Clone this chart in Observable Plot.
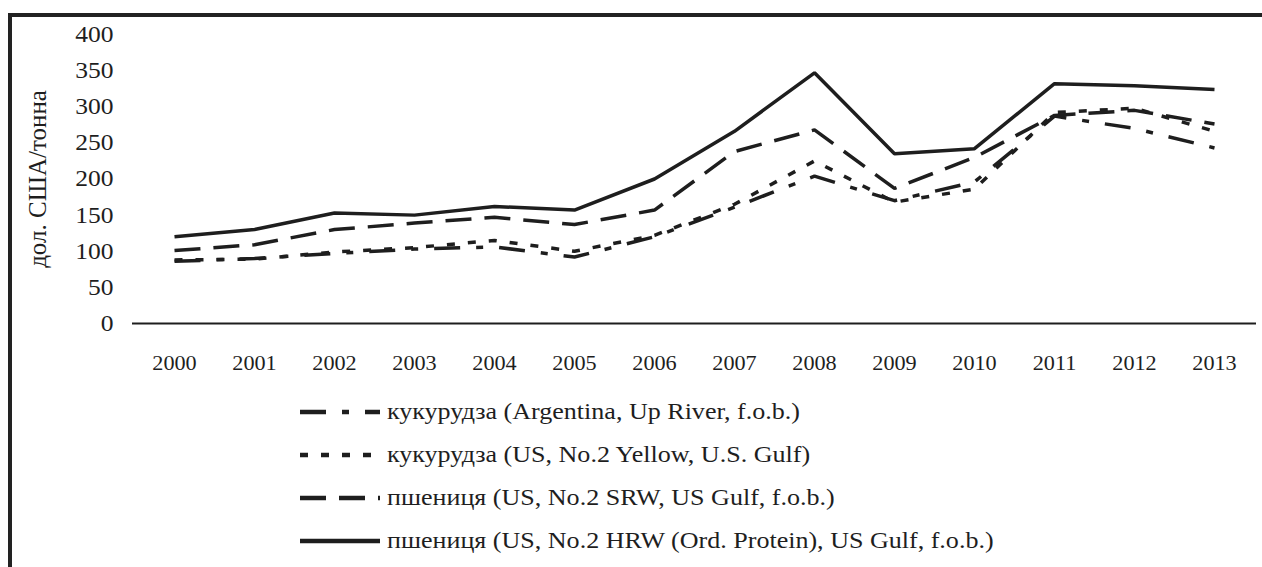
<!DOCTYPE html>
<html>
<head>
<meta charset="utf-8">
<script src="https://cdn.jsdelivr.net/npm/d3@7"></script>
<script src="https://cdn.jsdelivr.net/npm/@observablehq/plot@0.6"></script>
<style>
  html, body { margin: 0; padding: 0; background: #fff; }
  body { width: 1262px; height: 567px; position: relative; overflow: hidden; font-family: "Liberation Serif", "Times New Roman", "DejaVu Serif", serif; }
  #frame { position: absolute; left: 8px; top: 13px; width: 1262px; height: 600px; border-left: 4px solid #222; border-top: 4px solid #222; box-sizing: border-box; z-index: 2; pointer-events: none; }
  #chart { position: absolute; left: 0; top: 0; }
  #chart svg text { font-family: "Liberation Serif", "Times New Roman", "DejaVu Serif", serif; }
  #legend { position: absolute; left: 300px; top: 390px; color: #1e1e1e; }
  .row { height: 43px; display: flex; align-items: center; font-size: 24px; white-space: nowrap; }
  .row svg { margin-right: 7px; flex: none; }
  .row span { display: inline-block; transform: scaleX(1.085); transform-origin: 0 50%; }
</style>
</head>
<body>
<div id="frame"></div>
<div id="chart"></div>
<div id="legend"></div>
<script>
// ---- data ----
const years = ["2000","2001","2002","2003","2004","2005","2006","2007","2008","2009","2010","2011","2012","2013"];
const seriesNames = [
  "кукурудза (Argentina, Up River, f.o.b.)",
  "кукурудза (US, No.2 Yellow, U.S. Gulf)",
  "пшениця (US, No.2 SRW, US Gulf, f.o.b.)",
  "пшениця (US, No.2 HRW (Ord. Protein), US Gulf, f.o.b.)"
];
const cornArgentina = [86, 90, 97, 103, 106, 92, 120, 161, 204, 170, 196, 287, 270, 243];
const cornUS        = [88, 89, 99, 105, 115, 100, 122, 165, 225, 168, 186, 292, 298, 266];
const wheatSRW      = [101, 109, 130, 139, 147, 137, 157, 238, 268, 187, 230, 288, 295, 276];
const wheatHRW      = [120, 130, 153, 150, 162, 157, 200, 266, 347, 235, 242, 332, 329, 324];
const yTicks = [0, 50, 100, 150, 200, 250, 300, 350, 400];
const yLabel = "дол. США/тонна";

// ---- styles ----
const seriesValues = [cornArgentina, cornUS, wheatSRW, wheatHRW];
const dashes = ["26,16,7,16", "8,13", "26,13", null];
const ink = "#1e1e1e";

const tables = seriesValues.map((vals, s) => years.map((yr, i) => ({year: yr, value: vals[i], series: seriesNames[s]})));

const chart = Plot.plot({
  width: 1262,
  height: 390,
  marginTop: 34,
  marginBottom: 67,
  marginLeft: 132,
  marginRight: 6,
  style: {fontFamily: "'Liberation Serif', 'Times New Roman', 'DejaVu Serif', serif", fontSize: "20px", color: ink, background: "transparent"},
  x: {type: "point", domain: years, padding: 0.5, align: 0.5, tickSize: 0, tickPadding: 32, label: null},
  y: {domain: [0, 400], ticks: yTicks, tickSize: 0, tickPadding: 19, label: yLabel, labelAnchor: "center", labelOffset: 104, labelArrow: false},
  marks: [
    Plot.ruleY([0], {stroke: ink, strokeWidth: 2}),
    ...tables.map((t, s) => Plot.line(t, {
      x: "year", y: "value",
      stroke: ink, strokeWidth: 3.5,
      strokeDasharray: dashes[s] || undefined,
      strokeLinejoin: "miter", strokeLinecap: "butt"
    }))
  ]
});
document.getElementById("chart").appendChild(chart);

// typographic tweaks: the reference type is slightly wider than Liberation Serif
const svgSel = d3.select(chart);
svgSel.selectAll('g[aria-label="y-axis tick label"] text').style("font-size", "23px");
svgSel.selectAll('g[aria-label="y-axis label"] text').style("font-size", "25px");
svgSel.selectAll('g[aria-label="x-axis tick label"] text, g[aria-label="y-axis tick label"] text').each(function() {
  const w = this.getComputedTextLength();
  this.setAttribute("textLength", (w * 1.11).toFixed(1));
  this.setAttribute("lengthAdjust", "spacingAndGlyphs");
});

// legend
const legend = d3.select("#legend");
seriesNames.forEach((name, s) => {
  const row = legend.append("div").attr("class", "row");
  const svg = row.append("svg").attr("width", 80).attr("height", 12);
  svg.append("line").attr("x1", 0).attr("x2", 80).attr("y1", 6).attr("y2", 6)
    .attr("stroke", ink).attr("stroke-width", 4.3)
    .attr("stroke-dasharray", dashes[s]);
  row.append("span").text(name);
});
</script>
</body>
</html>
